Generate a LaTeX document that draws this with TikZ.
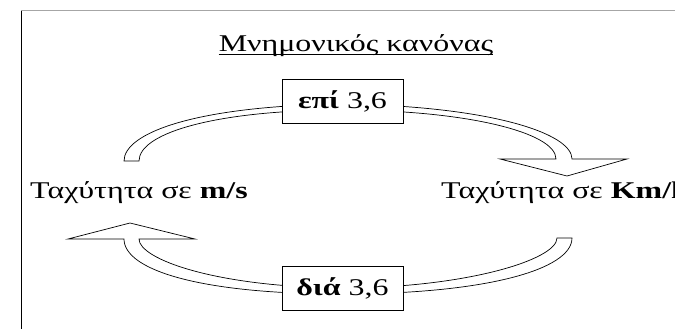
\documentclass[tikz,border=0pt]{standalone}
\usepackage{fontspec}
\setmainfont[FakeStretch=1.33]{Liberation Serif}
\begin{document}
\begin{tikzpicture}[x=1pt,y=-1pt,
  band/.style={draw=black,fill=white,line width=0.7pt,line join=miter},
  rulebox/.style={draw=black,fill=white,line width=0.9pt,minimum width=121pt,minimum height=44pt,inner sep=0pt,font=\fontsize{24}{28}\selectfont},
  lbl/.style={inner sep=0pt,font=\fontsize{24}{28}\selectfont}]
\useasboundingbox (0,0) rectangle (675,329);
\fill[white] (0,0) rectangle (675,329);
% frame
\draw[gray!70,line width=1pt] (21,11) -- (680,11);
\draw[black,line width=1pt] (21,11) -- (21,335);
% title
\node[lbl,anchor=base] (title) at (356,52) {Μνημονικός κανόνας};
\draw[line width=0.9pt] ([yshift=-2pt]title.base west) -- ([yshift=-2pt]title.base east);
% top arrow
\draw[band] (124,161) .. controls (124,133) and (195,106) .. (342,104)
  .. controls (489,106) and (572,133) .. (572,159)
  -- (627,159) -- (567,176) -- (500,159) -- (556,159)
  .. controls (556,132) and (464,110) .. (342,110)
  .. controls (220,110) and (139,132) .. (139,161) -- cycle;
% bottom arrow
\draw[band] (572,238) .. controls (572,270) and (484,294) .. (342,294)
  .. controls (200,294) and (124,270) .. (124,239)
  -- (68,239) -- (130,223) -- (195,239) -- (139,239)
  .. controls (139,259) and (215,287) .. (342,288)
  .. controls (464,288) and (557,260) .. (557,238) -- cycle;
% boxes
\node[rulebox] (epi) at (342.5,101) {\textbf{επί} 3,6};
\node[rulebox] (dia) at (342.5,288) {\textbf{διά} 3,6};
% labels
\node[lbl,anchor=base west] (ms) at (30,198) {Ταχύτητα σε \textbf{m/s}};
\node[lbl,anchor=base west] (kmh) at (441,198) {Ταχύτητα σε \textbf{Km/h}};
\end{tikzpicture}
\end{document}
